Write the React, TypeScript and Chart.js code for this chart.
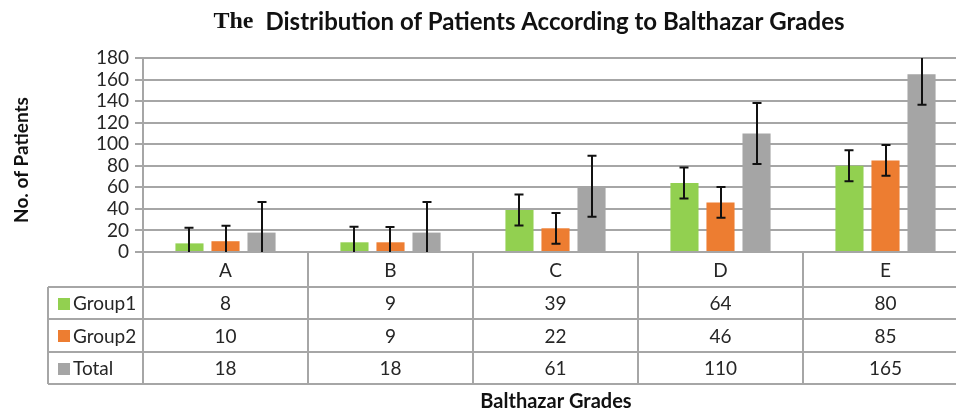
import React, { useEffect, useRef } from "react";
import { Chart, registerables } from "chart.js";

Chart.register(...registerables);

const categories = ["A", "B", "C", "D", "E"];
const seriesNames = ["Group1", "Group2", "Total"];
const group1 = [8, 9, 39, 64, 80];
const group2 = [10, 9, 22, 46, 85];
const total = [18, 18, 61, 110, 165];
const group1Err = [14.4, 14.4, 14.4, 14.4, 14.4];
const group2Err = [14.3, 14.3, 14.3, 14.3, 14.3];
const totalErr = [28.3, 28.3, 28.3, 28.3, 28.3];
const seriesColors = ["#92d050", "#ed7d31", "#a5a5a5"];
const yMin = 0;
const yMax = 180;
const yStep = 20;

const titleLead = "The";
const titleRest = "Distribution of Patients According to Balthazar Grades";
const yTitle = "No. of Patients";
const xTitle = "Balthazar Grades";

const FONT = "Lato, 'Open Sans', sans-serif";
const GRID = "#a6a6a6";
const TEXT = "#262626";

export default function App() {
  const ref = useRef<HTMLCanvasElement | null>(null);

  useEffect(() => {
    const canvas = ref.current;
    if (!canvas) return;
    const errs = [group1Err, group2Err, totalErr];
    const seriesData = [group1, group2, total];

    const errorBars = {
      id: "errorBars",
      afterDatasetsDraw(chart: any) {
        const { ctx, chartArea } = chart;
        const y = chart.scales.y;
        ctx.save();
        ctx.strokeStyle = "#111";
        ctx.lineWidth = 2;
        chart.data.datasets.forEach((ds: any, i: number) => {
          const meta = chart.getDatasetMeta(i);
          meta.data.forEach((bar: any, j: number) => {
            const v = ds.data[j];
            const e = errs[i][j];
            let top = y.getPixelForValue(v + e);
            let bot = y.getPixelForValue(v - e);
            const topClip = top < chartArea.top;
            const botClip = bot > chartArea.bottom;
            if (topClip) top = chartArea.top;
            if (botClip) bot = chartArea.bottom;
            const x = Math.round(bar.x);
            ctx.beginPath();
            ctx.moveTo(x, top);
            ctx.lineTo(x, bot);
            if (!topClip) {
              ctx.moveTo(x - 4.5, top);
              ctx.lineTo(x + 4.5, top);
            }
            if (!botClip) {
              ctx.moveTo(x - 4.5, bot);
              ctx.lineTo(x + 4.5, bot);
            }
            ctx.stroke();
          });
        });
        ctx.restore();
      },
    };

    const tableAndTitles = {
      id: "tableAndTitles",
      afterDraw(chart: any) {
        const { ctx, chartArea } = chart;
        const x = chart.scales.x;
        const n = categories.length;
        const headerBottom = chartArea.bottom + 35;
        const rowH = 32.3;
        const tableBottom = headerBottom + rowH * seriesNames.length;
        const legendLeft = 48;
        ctx.save();
        ctx.strokeStyle = GRID;
        ctx.lineWidth = 2;
        ctx.beginPath();
        for (let i = 0; i <= n; i++) {
          const px = Math.round(x.getPixelForValue(i - 0.5));
          ctx.moveTo(px, chartArea.bottom);
          ctx.lineTo(px, tableBottom);
        }
        for (let r = 0; r <= seriesNames.length; r++) {
          const py = Math.round(headerBottom + rowH * r);
          ctx.moveTo(legendLeft, py);
          ctx.lineTo(chartArea.right, py);
        }
        ctx.moveTo(legendLeft, headerBottom);
        ctx.lineTo(legendLeft, tableBottom);
        ctx.stroke();

        ctx.fillStyle = TEXT;
        ctx.font = `19px ${FONT}`;
        ctx.textAlign = "center";
        ctx.textBaseline = "middle";
        categories.forEach((c, i) => {
          ctx.fillText(c, x.getPixelForValue(i), (chartArea.bottom + headerBottom) / 2 + 1);
        });
        seriesNames.forEach((name, r) => {
          const cy = headerBottom + rowH * (r + 0.5) + 1;
          ctx.fillStyle = seriesColors[r];
          ctx.fillRect(58, Math.round(cy - 6), 12, 12);
          ctx.fillStyle = TEXT;
          ctx.textAlign = "left";
          ctx.fillText(name, 73, cy);
          ctx.textAlign = "center";
          seriesData[r].forEach((v, i) => {
            ctx.fillText(String(v), x.getPixelForValue(i), cy);
          });
        });

        ctx.fillStyle = "#111";
        ctx.textBaseline = "middle";
        const tSize = 24;
        ctx.font = `bold ${tSize}px 'Liberation Serif', serif`;
        const w1 = ctx.measureText(titleLead + "  ").width;
        ctx.font = `bold ${tSize}px ${FONT}`;
        const w2 = ctx.measureText(titleRest).width;
        const start = 529 - (w1 + w2) / 2;
        ctx.textAlign = "left";
        ctx.font = `bold ${tSize}px 'Liberation Serif', serif`;
        ctx.fillText(titleLead, start, 22);
        ctx.font = `bold ${tSize}px ${FONT}`;
        ctx.fillText(titleRest, start + w1, 22);

        ctx.font = `bold 20px ${FONT}`;
        ctx.textAlign = "center";
        ctx.fillText(xTitle, 556, 402);

        ctx.font = `bold 19px ${FONT}`;
        ctx.translate(22, 160);
        ctx.rotate(-Math.PI / 2);
        ctx.fillText(yTitle, 0, 0);
        ctx.restore();
      },
    };

    const chart = new Chart(canvas, {
      type: "bar",
      data: {
        labels: categories,
        datasets: seriesNames.map((name, i) => ({
          label: name,
          data: seriesData[i],
          backgroundColor: seriesColors[i],
          borderWidth: 0,
          categoryPercentage: 0.655,
          barPercentage: 0.78,
        })),
      },
      options: {
        responsive: false,
        animation: false,
        devicePixelRatio: 1,
        layout: { padding: { top: 58, bottom: 158, left: 0, right: 0 } },
        plugins: {
          legend: { display: false },
          title: { display: false },
          tooltip: { enabled: false },
        },
        scales: {
          x: {
            display: false,
            grid: { display: false },
          },
          y: {
            min: yMin,
            max: yMax,
            afterFit(scale: any) {
              scale.width = 143;
            },
            ticks: {
              stepSize: yStep,
              autoSkip: false,
              color: TEXT,
              padding: 6,
              font: { family: FONT, size: 19 },
            },
            grid: {
              color: GRID,
              lineWidth: 2,
              tickLength: 8,
              drawTicks: true,
            },
            border: { display: true, color: GRID, width: 2 },
          },
        },
      },
      plugins: [errorBars, tableAndTitles],
    });
    return () => chart.destroy();
  }, []);

  return (
    <div
      style={{
        position: "absolute",
        left: 0,
        top: 0,
        width: 956,
        height: 410,
        overflow: "hidden",
        background: "#fff",
      }}
    >
      <canvas ref={ref} width={968} height={410} style={{ display: "block" }} />
    </div>
  );
}
